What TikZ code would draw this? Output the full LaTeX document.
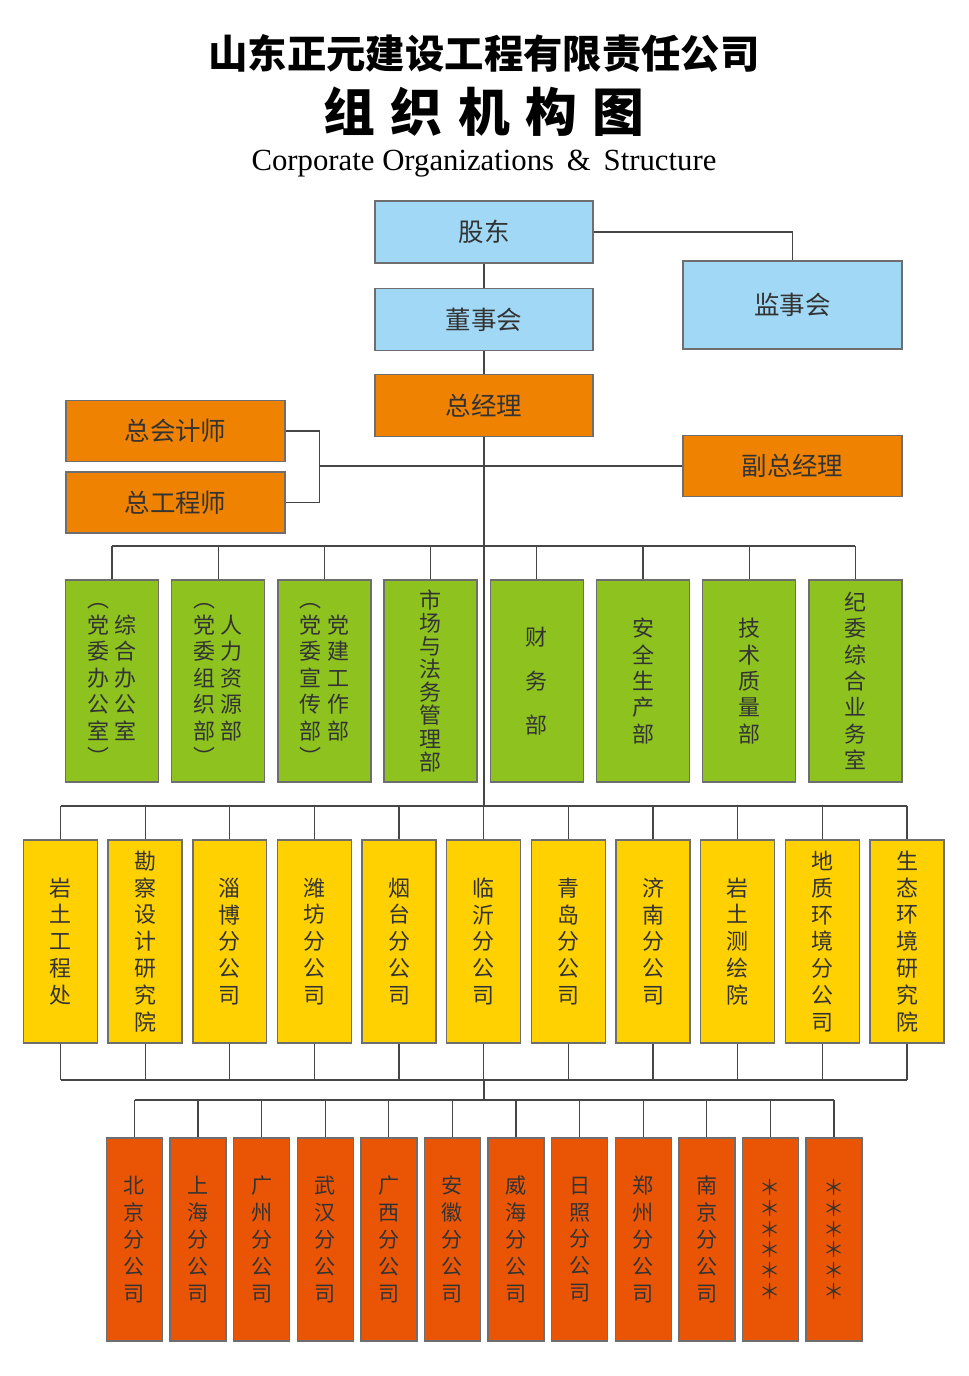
\documentclass[tikz,border=0pt]{standalone}
\usepackage{fontspec}
\setmainfont{Liberation Serif}
\newfontfamily\cjk{Noto Sans CJK SC}
\usetikzlibrary{positioning}

\definecolor{skyblue}{RGB}{160,216,245}
\definecolor{leadorange}{RGB}{239,130,0}
\definecolor{deptgreen}{RGB}{141,194,31}
\definecolor{instyellow}{RGB}{255,209,0}
\definecolor{branchred}{RGB}{233,85,4}
\definecolor{boxline}{RGB}{110,110,110}
\definecolor{linkgray}{RGB}{70,70,70}

\begin{document}
\begin{tikzpicture}[
  x=0.02cm, y=-0.02cm,
  box/.style={
    draw=boxline, line width=0.8pt, inner sep=0pt,
    align=center, text=black!80,
    font=\cjk\fontsize{14.5}{17}\selectfont
  },
  head/.style={box, fill=skyblue, minimum width=4.36cm, minimum height=1.24cm},
  lead/.style={box, fill=leadorange, minimum width=4.38cm, minimum height=1.22cm},
  dept/.style={
    box, fill=deptgreen, minimum width=1.86cm, minimum height=4.04cm,
    font=\cjk\fontsize{12.5}{15}\selectfont
  },
  inst/.style={
    box, fill=instyellow, minimum width=1.48cm, minimum height=4.06cm,
    font=\cjk\fontsize{12.5}{15.3}\selectfont
  },
  branch/.style={
    box, fill=branchred, minimum width=1.12cm, minimum height=4.06cm,
    font=\cjk\fontsize{12}{15.3}\selectfont
  },
  link/.style={draw=linkgray, line width=0.7pt}
]
  \useasboundingbox (0,0) rectangle (969,1376);

  % titles
  \node[font=\cjk\bfseries\fontsize{22.4}{26}\selectfont] (title) at (484,53)
    {山东正元建设工程有限责任公司};
  \node[font=\cjk\bfseries\fontsize{29.5}{34}\selectfont] (subtitle) at (484,112)
    {组\hspace{0.3em}织\hspace{0.3em}机\hspace{0.3em}构\hspace{0.3em}图};
  \node[font=\fontsize{17.5}{20}\selectfont, anchor=base] (entitle) at (484,170)
    {Corporate Organizations \,\&\, Structure};

  % top levels
  \node[head] (holder) at (484,232) {股东};
  \node[head, below=0.48cm of holder] (board) {董事会};
  \node[lead, below=0.46cm of board, minimum width=4.36cm, minimum height=1.24cm] (gm) {总经理};
  \node[head, minimum width=4.38cm, minimum height=1.76cm] (supervisor) at (792.5,305) {监事会};

  \node[lead] (cfo) at (175.5,431) {总会计师};
  \node[lead, below=0.18cm of cfo] (chiefeng) {总工程师};
  \node[lead] (deputy) at (792.5,466) {副总经理};

  % departments
  \foreach \t [count=\i] in {
      {\begin{tabular}{@{}c@{\hspace{3pt}}c@{}}︵&\\党&综\\委&合\\办&办\\公&公\\室&室\\︶&\end{tabular}},
      {\begin{tabular}{@{}c@{\hspace{3pt}}c@{}}︵&\\党&人\\委&力\\组&资\\织&源\\部&部\\︶&\end{tabular}},
      {\begin{tabular}{@{}c@{\hspace{3pt}}c@{}}︵&\\党&党\\委&建\\宣&工\\传&作\\部&部\\︶&\end{tabular}},
      {市\\[-1.9pt]场\\[-1.9pt]与\\[-1.9pt]法\\[-1.9pt]务\\[-1.9pt]管\\[-1.9pt]理\\[-1.9pt]部},
      {财\\[10pt]务\\[10pt]部},
      {安\\全\\生\\产\\部},
      {技\\术\\质\\量\\部},
      {纪\\委\\综\\合\\业\\务\\室}}
    \node[dept] (d\i) at ({112+106.2*(\i-1)},681) {\t};

  % institutes and branches in Shandong
  \foreach \t [count=\i] in {
      {岩\\土\\工\\程\\处},
      {勘\\察\\设\\计\\研\\究\\院},
      {淄\\博\\分\\公\\司},
      {潍\\坊\\分\\公\\司},
      {烟\\台\\分\\公\\司},
      {临\\沂\\分\\公\\司},
      {青\\岛\\分\\公\\司},
      {济\\南\\分\\公\\司},
      {岩\\土\\测\\绘\\院},
      {地\\质\\环\\境\\分\\公\\司},
      {生\\态\\环\\境\\研\\究\\院}}
    \node[inst] (y\i) at ({60.5+84.65*(\i-1)},941.5) {\t};

  % branches outside
  \foreach \t [count=\i] in {
      {北\\京\\分\\公\\司},
      {上\\海\\分\\公\\司},
      {广\\州\\分\\公\\司},
      {武\\汉\\分\\公\\司},
      {广\\西\\分\\公\\司},
      {安\\徽\\分\\公\\司},
      {威\\海\\分\\公\\司},
      {日\\照\\分\\公\\司},
      {郑\\州\\分\\公\\司},
      {南\\京\\分\\公\\司},
      {＊\\[-3.4pt]＊\\[-3.4pt]＊\\[-3.4pt]＊\\[-3.4pt]＊\\[-3.4pt]＊},
      {＊\\[-3.4pt]＊\\[-3.4pt]＊\\[-3.4pt]＊\\[-3.4pt]＊\\[-3.4pt]＊}}
    \node[branch] (b\i) at ({134.5+63.59*(\i-1)},1239.5) {\t};

  % bus points
  \coordinate (brace) at (319,466);
  \coordinate (deptbus) at (484,546);
  \coordinate (instbus) at (484,806);
  \coordinate (joinbus) at (484,1080);
  \coordinate (branchbus) at (484,1100);

  % connectors
  \draw[link] (holder) -- (board);
  \draw[link] (board) -- (gm);
  \draw[link] (holder.east) -| (supervisor.north);
  \draw[link] (cfo.east) -- ++(34,0) |- (chiefeng.east);
  \draw[link] (brace) -- (deputy.west);
  \draw[link] (gm.south) -- (instbus);

  \draw[link] (d1.north |- deptbus) -- (d8.north |- deptbus);
  \foreach \i in {1,...,8}
    \draw[link] (d\i.north) -- (d\i.north |- deptbus);

  \draw[link] (y1.north |- instbus) -- (y11.north |- instbus);
  \draw[link] (y1.south |- joinbus) -- (y11.south |- joinbus);
  \foreach \i in {1,...,11} {
    \draw[link] (y\i.north) -- (y\i.north |- instbus);
    \draw[link] (y\i.south) -- (y\i.south |- joinbus);
  }

  \draw[link] (joinbus) -- (branchbus);
  \draw[link] (b1.north |- branchbus) -- (b12.north |- branchbus);
  \foreach \i in {1,...,12}
    \draw[link] (b\i.north) -- (b\i.north |- branchbus);

\end{tikzpicture}
\end{document}
